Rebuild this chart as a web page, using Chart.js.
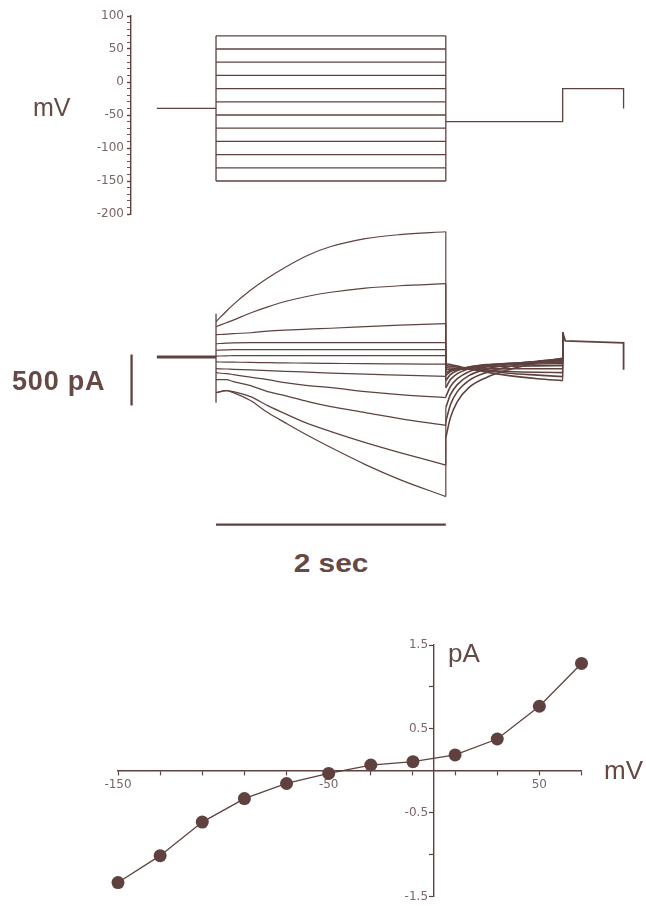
<!DOCTYPE html>
<html>
<head>
<meta charset="utf-8">
<script src="https://cdn.jsdelivr.net/npm/chart.js@4.4.1/dist/chart.umd.min.js"></script>
<style>
  body { margin: 0; background: #fff; }
  #fig { position: relative; width: 646px; height: 906px; overflow: hidden;
         font-family: "Liberation Sans", Arial, sans-serif; color: #664845; }
  #fig canvas { position: absolute; left: 0; }
  .lbl { position: absolute; white-space: nowrap; }
</style>
</head>
<body>
<div id="fig">
  <canvas id="protocolChart" width="646" height="230" style="top:0px"></canvas>
  <canvas id="currentChart" width="646" height="321" style="top:219px"></canvas>
  <canvas id="ivChart" width="646" height="286" style="top:620px"></canvas>
  <div class="lbl" style="left:33px; top:95px; font-size:25px; line-height:25px;">mV</div>
  <div class="lbl" style="left:12px; top:368px; font-size:27px; line-height:27px; font-weight:bold; letter-spacing:0.8px;">500 pA</div>
  <div class="lbl" style="left:231px; width:200px; text-align:center; top:550px; font-size:25.5px; line-height:26px; font-weight:bold; transform:scaleX(1.17);">2 sec</div>
  <div class="lbl" style="left:448px; top:640px; font-size:26px; line-height:26px;">pA</div>
  <div class="lbl" style="left:604px; top:757px; font-size:26px; line-height:26px;">mV</div>
</div>
<script>
// voltage protocol (mV, ms)
const stepVoltages = [70, 50, 30, 10, -10, -30, -50, -70, -90, -110, -130, -150];
const holdingV = -40;
const tailV = -60;
const testV = -10;
const protocolTimes = [-515, 0, 2000, 3017, 3547]; // start, step on, step off, test on, test off

// membrane currents (pA), one row per step voltage
const holdingCurrent = 45;
const transientCurrents = [471, -402];
const pulseTimes = [0, 90, 150, 300, 450, 600, 800, 1000, 1300, 1600, 2000];
const pulseCurrents = [
    [392, 495, 560, 700, 820, 925, 1045, 1130, 1208, 1247, 1275],
    [343, 382, 408, 478, 538, 590, 642, 681, 721, 745, 765],
    [265, 270, 275, 284, 299, 309, 319, 328, 343, 358, 373],
    [176, 182, 184, 186, 186, 186, 186, 186, 186, 186, 186],
    [112, 116, 118, 118, 118, 118, 118, 118, 118, 118, 118],
    [55, 57, 59, 59, 59, 59, 59, 59, 59, 59, 59],
    [-3, -4, -5, -7, -10, -12, -15, -17, -20, -22, -25],
    [-69, -72, -75, -81, -88, -95, -103, -113, -123, -132, -144],
    [-108, -118, -127, -152, -176, -206, -235, -255, -294, -324, -353],
    [-176, -176, -196, -235, -294, -333, -392, -441, -500, -559, -625],
    [-304, -284, -294, -343, -431, -510, -608, -686, -794, -892, -1015],
    [-304, -284, -304, -382, -500, -598, -725, -843, -1010, -1157, -1324]
];
const tailTimes = [2000, 2040, 2100, 2200, 2350, 2550, 2800, 3017];
const tailCurrents = [
    [-20, -29, -44, -69, -103, -137, -167, -186],
    [-39, -45, -54, -69, -88, -113, -132, -147],
    [-59, -62, -67, -75, -85, -96, -104, -108],
    [-78, -76, -75, -73, -71, -70, -69, -69],
    [-108, -88, -74, -61, -51, -45, -41, -39],
    [-137, -98, -74, -52, -37, -28, -23, -20],
    [-186, -127, -88, -54, -29, -18, -10, -5],
    [-255, -176, -118, -69, -34, -15, -2, 5],
    [-343, -245, -167, -98, -49, -20, 2, 15],
    [-451, -324, -225, -137, -74, -29, 5, 25],
    [-588, -422, -294, -186, -108, -49, 0, 29],
    [-745, -549, -392, -255, -157, -78, -10, 34]
];
const testTimes = [3017, 3040, 3547, 3547];
const testCurrents = [285, 205, 185, -80];

// scale bars
const scaleBarCurrent = [70, -430];   // 500 pA
const scaleBarTime = [0, 2000];       // 2 sec

// I-V relation
const ivVoltages = [-150, -130, -110, -90, -70, -50, -30, -10, 10, 30, 50, 70];
const ivCurrents = [-1.33, -1.01, -0.61, -0.33, -0.15, -0.03, 0.07, 0.11, 0.19, 0.38, 0.77, 1.28];
const ivXTicks = [-150, -130, -110, -90, -70, -50, -30, -10, 10, 30, 50, 70];
const ivXLabels = [-150, -50, 50];
const ivYTicks = [-1.5, -1, -0.5, 0.5, 1, 1.5];
const ivYLabels = [-1.5, -0.5, 0.5, 1.5];

const INK = '#5f423f';
const TICK = '#7a6664';
const TICK_FONT = { family: '"DejaVu Sans", sans-serif', size: 12 };
Chart.defaults.font.family = '"Liberation Sans", Arial, sans-serif';

const base = {
    responsive: false,
    animation: false,
    events: [],
    devicePixelRatio: 1,
    plugins: { legend: { display: false }, tooltip: { enabled: false } }
};

function line(points, width, smooth) {
    return {
        data: points,
        borderColor: INK,
        borderWidth: width,
        pointRadius: 0,
        fill: false,
        clip: false,
        cubicInterpolationMode: smooth ? 'monotone' : 'default',
        tension: 0
    };
}

// Voltage protocol: shared holding/tail/test path, then one line per step
const vTop = Math.max(...stepVoltages);
const vBottom = Math.min(...stepVoltages);
const protocolSets = [
    line([{ x: protocolTimes[0], y: holdingV }, { x: protocolTimes[1], y: holdingV }], 1.3, false),
    line([{ x: protocolTimes[1], y: vTop }, { x: protocolTimes[1], y: vBottom }], 1.3, false),
    line([{ x: protocolTimes[2], y: vTop }, { x: protocolTimes[2], y: vBottom }], 1.3, false),
    line([
        { x: protocolTimes[2], y: tailV },
        { x: protocolTimes[3], y: tailV },
        { x: protocolTimes[3], y: testV },
        { x: protocolTimes[4], y: testV },
        { x: protocolTimes[4], y: holdingV }
    ], 1.3, false)
];
stepVoltages.forEach(v => {
    protocolSets.push(line([{ x: protocolTimes[1], y: v }, { x: protocolTimes[2], y: v }], 1.3, false));
});

new Chart(document.getElementById('protocolChart'), {
    type: 'line',
    data: { datasets: protocolSets },
    options: Object.assign({}, base, {
        layout: { padding: { top: 16, bottom: 16, left: 0, right: 6 } },
        scales: {
            x: { type: 'linear', display: false, min: -740, max: 3690 },
            y: {
                type: 'linear', min: -200, max: 100,
                afterFit: function (scale) { scale.width = 131; },
                border: { display: true, color: INK, width: 1.4 },
                grid: {
                    drawOnChartArea: false, drawTicks: true, tickLength: 4, tickColor: INK,
                    tickWidth: ctx => (ctx.tick && ctx.tick.value % 50 === 0) ? 1.4 : 0.9
                },
                ticks: {
                    stepSize: 10, autoSkip: false, padding: 3, color: TICK,
                    font: TICK_FONT,
                    callback: v => (v % 50 === 0 ? String(v) : '')
                }
            }
        }
    })
});

// Current traces
const currentSets = [];
currentSets.push(line([{ x: protocolTimes[0], y: holdingCurrent }, { x: 0, y: holdingCurrent }], 3, false));
currentSets.push(line([{ x: 0, y: transientCurrents[0] }, { x: 0, y: transientCurrents[1] }], 1.3, false));
stepVoltages.forEach((v, i) => {
    const pulse = pulseTimes.map((t, k) => ({ x: t, y: pulseCurrents[i][k] }));
    const tail = tailTimes.map((t, k) => ({ x: t, y: tailCurrents[i][k] }));
    currentSets.push(line(pulse, 1.2, true));
    currentSets.push(line([pulse[pulse.length - 1], tail[0]], 1.2, false));
    currentSets.push(line(tail, 1.6, true));
    currentSets.push(line([tail[tail.length - 1], { x: testTimes[0], y: testCurrents[0] }], 1.2, false));
});
currentSets.push(line(testTimes.map((t, k) => ({ x: t, y: testCurrents[k] })), 1.8, false));
currentSets.push(line([{ x: -735, y: scaleBarCurrent[0] }, { x: -735, y: scaleBarCurrent[1] }], 2.3, false));
currentSets.push(line([{ x: scaleBarTime[0], y: -1600 }, { x: scaleBarTime[1], y: -1600 }], 2.3, false));

new Chart(document.getElementById('currentChart'), {
    type: 'line',
    data: { datasets: currentSets },
    options: Object.assign({}, base, {
        layout: { padding: { top: 0, bottom: 0, left: 131, right: 6 } },
        scales: {
            x: { type: 'linear', display: false, min: -740, max: 3690 },
            y: { type: 'linear', display: false, min: -1750, max: 1400 }
        }
    })
});

// I-V plot
new Chart(document.getElementById('ivChart'), {
    type: 'line',
    data: {
        datasets: [{
            data: ivVoltages.map((v, i) => ({ x: v, y: ivCurrents[i] })),
            borderColor: INK,
            borderWidth: 1.3,
            pointRadius: 6.5,
            pointBackgroundColor: INK,
            pointBorderWidth: 0,
            tension: 0,
            clip: false
        }]
    },
    options: Object.assign({}, base, {
        layout: { padding: { top: 25, bottom: 9, left: 118, right: 64.5 } },
        scales: {
            x: {
                type: 'linear', min: -150, max: 70, position: { y: 0 },
                afterBuildTicks: function (scale) { scale.ticks = ivXTicks.map(v => ({ value: v })); },
                border: { display: true, color: INK, width: 1.4 },
                grid: { drawOnChartArea: false, drawTicks: true, tickLength: 4, tickColor: INK, tickWidth: 1.2 },
                ticks: {
                    autoSkip: false, maxRotation: 0, padding: 3, color: TICK, font: TICK_FONT,
                    callback: v => (ivXLabels.includes(v) ? String(v) : '')
                }
            },
            y: {
                type: 'linear', min: -1.5, max: 1.5, position: { x: 0 },
                afterBuildTicks: function (scale) { scale.ticks = ivYTicks.map(v => ({ value: v })); },
                border: { display: true, color: INK, width: 1.4 },
                grid: { drawOnChartArea: false, drawTicks: true, tickLength: 4, tickColor: INK, tickWidth: 1.2 },
                ticks: {
                    autoSkip: false, padding: 2, color: TICK, font: TICK_FONT,
                    // centred axes put the label on the axis line; keep a gap for the tick
                    callback: v => (ivYLabels.includes(v) ? String(v) + '\u2002' : '')
                }
            }
        }
    })
});
</script>
</body>
</html>
